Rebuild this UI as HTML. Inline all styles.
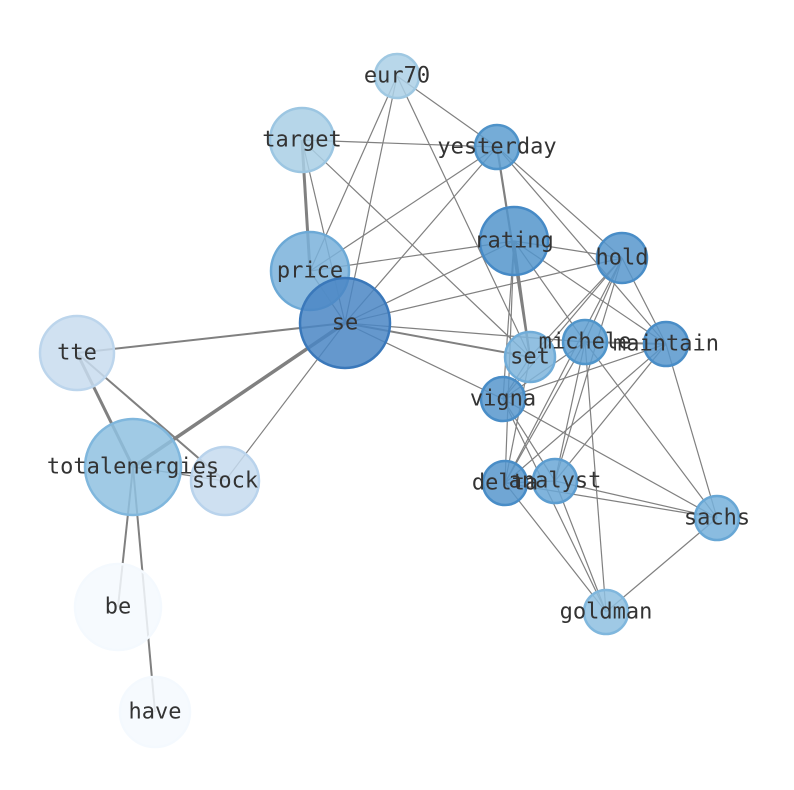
<!DOCTYPE html>
<html><head><meta charset="utf-8"><style>
html,body{margin:0;padding:0;background:#fff;}
svg{display:block}
text{font-family:"DejaVu Sans Mono","Liberation Mono",monospace;font-size:22px;fill:#333;text-anchor:middle;dominant-baseline:central}
</style></head><body>
<svg width="794" height="790" viewBox="0 0 794 790">
<g stroke="#808080" stroke-width="1.2" fill="none">
<line x1="397" y1="76" x2="497" y2="147"/>
<line x1="397" y1="76" x2="310" y2="271"/>
<line x1="397" y1="76" x2="345" y2="323"/>
<line x1="397" y1="76" x2="530" y2="357"/>
<line x1="302" y1="140" x2="497" y2="147"/>
<line x1="302" y1="140" x2="310" y2="271" stroke-width="3"/>
<line x1="302" y1="140" x2="345" y2="323"/>
<line x1="302" y1="140" x2="530" y2="357"/>
<line x1="497" y1="147" x2="310" y2="271"/>
<line x1="497" y1="147" x2="345" y2="323"/>
<line x1="497" y1="147" x2="530" y2="357" stroke-width="2.2"/>
<line x1="497" y1="147" x2="622" y2="258"/>
<line x1="497" y1="147" x2="666" y2="344"/>
<line x1="514" y1="241" x2="310" y2="271"/>
<line x1="514" y1="241" x2="345" y2="323"/>
<line x1="514" y1="241" x2="622" y2="258"/>
<line x1="514" y1="241" x2="530" y2="357" stroke-width="2"/>
<line x1="514" y1="241" x2="585" y2="342"/>
<line x1="514" y1="241" x2="666" y2="344"/>
<line x1="514" y1="241" x2="503" y2="399"/>
<line x1="514" y1="241" x2="505" y2="483"/>
<line x1="622" y1="258" x2="345" y2="323"/>
<line x1="622" y1="258" x2="585" y2="342"/>
<line x1="622" y1="258" x2="530" y2="357"/>
<line x1="622" y1="258" x2="503" y2="399"/>
<line x1="622" y1="258" x2="505" y2="483"/>
<line x1="622" y1="258" x2="555" y2="481"/>
<line x1="622" y1="258" x2="666" y2="344"/>
<line x1="310" y1="271" x2="345" y2="323"/>
<line x1="345" y1="323" x2="77" y2="353" stroke-width="2"/>
<line x1="345" y1="323" x2="133" y2="467" stroke-width="3.5"/>
<line x1="345" y1="323" x2="225" y2="481"/>
<line x1="345" y1="323" x2="530" y2="357" stroke-width="2"/>
<line x1="345" y1="323" x2="585" y2="342"/>
<line x1="345" y1="323" x2="503" y2="399"/>
<line x1="77" y1="353" x2="133" y2="467" stroke-width="3"/>
<line x1="77" y1="353" x2="225" y2="481" stroke-width="2"/>
<line x1="133" y1="467" x2="225" y2="481"/>
<line x1="133" y1="467" x2="118" y2="607" stroke-width="2"/>
<line x1="133" y1="467" x2="155" y2="712" stroke-width="2"/>
<line x1="585" y1="342" x2="666" y2="344" stroke-width="2"/>
<line x1="585" y1="342" x2="503" y2="399"/>
<line x1="585" y1="342" x2="505" y2="483"/>
<line x1="585" y1="342" x2="555" y2="481"/>
<line x1="585" y1="342" x2="606" y2="612"/>
<line x1="585" y1="342" x2="717" y2="518"/>
<line x1="666" y1="344" x2="503" y2="399"/>
<line x1="666" y1="344" x2="505" y2="483"/>
<line x1="666" y1="344" x2="555" y2="481"/>
<line x1="666" y1="344" x2="717" y2="518"/>
<line x1="503" y1="399" x2="717" y2="518"/>
<line x1="503" y1="399" x2="606" y2="612"/>
<line x1="503" y1="399" x2="555" y2="481"/>
<line x1="505" y1="483" x2="606" y2="612"/>
<line x1="505" y1="483" x2="555" y2="481"/>
<line x1="505" y1="483" x2="717" y2="518"/>
<line x1="555" y1="481" x2="717" y2="518"/>
<line x1="555" y1="481" x2="606" y2="612"/>
<line x1="717" y1="518" x2="606" y2="612"/>
<line x1="530" y1="357" x2="505" y2="483"/>
<line x1="530" y1="357" x2="503" y2="399"/>
</g>
<g stroke-width="2.5" fill-opacity="0.85">
<circle cx="397" cy="76" r="22" fill="#abd0e6" stroke="#9fc8e2"/>
<circle cx="302" cy="140" r="32" fill="#a9cfe5" stroke="#9cc6e2"/>
<circle cx="497" cy="147" r="22" fill="#5d9dd0" stroke="#4f93c9"/>
<circle cx="514" cy="241" r="34" fill="#5495cb" stroke="#468ac6"/>
<circle cx="622" cy="258" r="25" fill="#5797cc" stroke="#498dc7"/>
<circle cx="310" cy="271" r="39" fill="#7ab2da" stroke="#6ca9d6"/>
<circle cx="345" cy="323" r="45" fill="#4a86c4" stroke="#3a78ba"/>
<circle cx="77" cy="353" r="37" fill="#c8dcef" stroke="#bcd5ec"/>
<circle cx="585" cy="342" r="22" fill="#5f9fd1" stroke="#5095ca"/>
<circle cx="666" cy="344" r="22" fill="#5797cc" stroke="#498dc7"/>
<circle cx="530" cy="357" r="25" fill="#7fb5dc" stroke="#70acd8"/>
<circle cx="503" cy="399" r="22" fill="#5797cc" stroke="#498dc7"/>
<circle cx="133" cy="467" r="48" fill="#8fc1e1" stroke="#80b7dd"/>
<circle cx="225" cy="481" r="34" fill="#c6dbef" stroke="#b9d3ec"/>
<circle cx="505" cy="483" r="22" fill="#5797cc" stroke="#498dc7"/>
<circle cx="555" cy="481" r="22" fill="#6aa7d6" stroke="#5c9dd0"/>
<circle cx="717" cy="518" r="22" fill="#76b0da" stroke="#68a7d5"/>
<circle cx="606" cy="612" r="22" fill="#8ec0e1" stroke="#80b7dd"/>
<circle cx="118" cy="607" r="43" fill="#f4f9fe" stroke="#f4f9fe"/>
<circle cx="155" cy="712" r="35" fill="#f4f9fe" stroke="#f4f9fe"/>
</g>
<g>
<text x="397" y="76">eur70</text>
<text x="302" y="140">target</text>
<text x="497" y="147">yesterday</text>
<text x="514" y="241">rating</text>
<text x="622" y="258">hold</text>
<text x="310" y="271">price</text>
<text x="345" y="323">se</text>
<text x="77" y="353">tte</text>
<text x="585" y="342">michele</text>
<text x="666" y="344">maintain</text>
<text x="530" y="357">set</text>
<text x="503" y="399">vigna</text>
<text x="133" y="467">totalenergies</text>
<text x="225" y="481">stock</text>
<text x="505" y="483">delta</text>
<text x="555" y="481">analyst</text>
<text x="717" y="518">sachs</text>
<text x="606" y="612">goldman</text>
<text x="118" y="607">be</text>
<text x="155" y="712">have</text>
</g>
</svg>
</body></html>
